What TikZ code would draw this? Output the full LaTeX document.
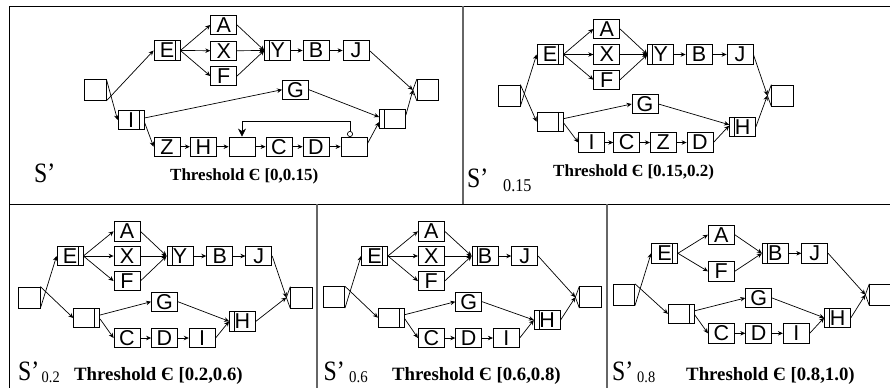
\documentclass[tikz,border=0pt]{standalone}
\usepackage{fontspec}
\setmainfont{Liberation Serif}
\newfontfamily\labfont{Liberation Sans}
\usetikzlibrary{arrows.meta}
\begin{document}
\begin{tikzpicture}[x=1pt,y=-1pt,
  bx/.style={draw, line width=0.8pt, minimum width=26pt, minimum height=19.5pt, inner sep=0pt, font=\labfont\fontsize{21.5}{21.5}\selectfont},
  se/.style={draw, line width=0.8pt, minimum width=21.5pt, minimum height=21pt, inner sep=0pt},
  dr/.style={bx, path picture={\draw[line width=0.8pt] ([xshift=-5pt]path picture bounding box.north east) -- ([xshift=-5pt]path picture bounding box.south east);}},
  dl/.style={bx, path picture={\draw[line width=0.8pt] ([xshift=5pt]path picture bounding box.north west) -- ([xshift=5pt]path picture bounding box.south west);}},
  arr/.style={-{Stealth[length=5pt,width=4.5pt]}, line width=0.7pt},
  ln/.style={line width=0.7pt},
  frameblack/.style={line width=0.9pt, black},
  framegray/.style={line width=1.1pt, black!60},
  slab/.style={anchor=base west, inner sep=0pt, font=\fontsize{28}{28}\selectfont},
  sub/.style={anchor=base west, inner sep=0pt},
  thr/.style={anchor=base west, inner sep=0pt, font=\bfseries\fontsize{18.8}{18.8}\selectfont},
  thrtop/.style={anchor=base west, inner sep=0pt, font=\bfseries\fontsize{17}{17}\selectfont}
]
\useasboundingbox (0,0) rectangle (890,388);
% frame
\draw[frameblack] (890,6) -- (9,6) -- (9,388);
\draw[frameblack] (9,204) -- (890,204);
\draw[framegray] (463,6) -- (463,204);
\draw[framegray] (317,204) -- (317,388);
\draw[framegray] (607,204) -- (607,388);

% ================= Panel 1 =================
\node[se] (st1) at (95.2,90) {};
\node[dr] (E1) at (167,50.5) {E};
\node[bx] (A1) at (223.7,25) {A};
\node[bx] (X1) at (223.7,50.7) {X};
\node[bx] (F1) at (223.7,76) {F};
\node[dl] (Y1) at (277.7,50.5) {Y};
\node[bx] (B1) at (316,50.5) {B};
\node[bx] (J1) at (356,50.5) {J};
\node[se] (en1) at (428,90) {};
\node[bx] (G1) at (295.5,89.7) {G};
\node[dr] (I1) at (131,120) {I};
\node[dl] (jn1) at (392.5,119) {};
\node[bx] (Z1) at (167,146.7) {Z};
\node[bx] (H1) at (203.3,146.7) {H};
\node[bx] (K1) at (242,146.7) {};
\node[bx] (C1) at (279,146.7) {C};
\node[bx] (D1) at (316,146.7) {D};
\node[bx] (L1) at (354,146.7) {};
\draw[arr] (st1.south east) -- (E1.west);
\draw[arr] (st1.north east) -- (I1.west);
\foreach \n in {A1,X1,F1}{
  \draw[arr] (E1.east) -- (\n.west);
  \draw[arr] (\n.east) -- (Y1.west);
}
\draw[arr] (Y1.east) -- (B1.west);
\draw[arr] (B1.east) -- (J1.west);
\draw[arr] ([yshift=2pt]I1.east) -- (G1.west);
\draw[arr] ([yshift=-2pt]I1.east) -- (Z1.west);
\draw[arr] (Z1.east) -- (H1.west);
\draw[arr] (H1.east) -- (K1.west);
\draw[arr] (K1.east) -- (C1.west);
\draw[arr] (C1.east) -- (D1.west);
\draw[arr] (D1.east) -- (L1.west);
\draw[arr] (G1.east) -- ([yshift=2pt]jn1.west);
\draw[arr] ([yshift=3pt]L1.east) -- ([yshift=-3pt]jn1.west);
\coordinate (p1) at ([xshift=-4pt]en1.west);
\draw[arr] (J1.east) -- (p1);
\draw[arr] ([yshift=4pt]jn1.east) -- (p1);
\draw[ln] (en1.north west) -- (p1) -- (en1.south west);
\node[circle, draw, line width=0.7pt, minimum size=5.2pt, inner sep=0pt] (o1) at (350,134) {};
\coordinate (lp1) at (242,121.7);
\draw[ln, -{Stealth[length=8pt,width=8pt]}] (o1.north) |- (lp1) -- (K1.north);
\node[slab] (s1) at (34,182) {\scalebox{0.85}[1]{S’}};
\node[thrtop] (t1) at (170,180) {Threshold Є [0,0.15)};

% ================= Panel 2 =================
\node[se] (st2) at (509.2,95.5) {};
\node[dr] (E2) at (550,54.5) {E};
\node[bx] (A2) at (606.7,29) {A};
\node[bx] (X2) at (606.7,54.5) {X};
\node[bx] (F2) at (606.7,79.7) {F};
\node[dl] (Y2) at (660.8,54.5) {Y};
\node[bx] (B2) at (699,54.5) {B};
\node[bx] (J2) at (740,54.5) {J};
\node[se] (en2) at (782.5,95.5) {};
\node[bx] (G2) at (645,104) {G};
\node[dr] (sp2) at (550,121.7) {};
\node[dl] (H2) at (742.5,126.7) {H};
\node[bx] (I2) at (591.7,142.5) {I};
\node[bx] (C2) at (626.7,142.5) {C};
\node[bx] (Z2) at (663.3,142.5) {Z};
\node[bx] (D2) at (700,142.5) {D};
\draw[arr] (st2.south east) -- (E2.west);
\draw[arr] (st2.north east) -- (sp2.west);
\foreach \n in {A2,X2,F2}{
  \draw[arr] (E2.east) -- (\n.west);
  \draw[arr] (\n.east) -- (Y2.west);
}
\draw[arr] (Y2.east) -- (B2.west);
\draw[arr] (B2.east) -- (J2.west);
\draw[arr] ([yshift=3pt]sp2.east) -- (G2.west);
\draw[arr] ([yshift=-1pt]sp2.east) -- (I2.west);
\draw[arr] (I2.east) -- (C2.west);
\draw[arr] (C2.east) -- (Z2.west);
\draw[arr] (Z2.east) -- (D2.west);
\draw[arr] (G2.east) -- ([yshift=2pt]H2.west);
\draw[arr] (D2.east) -- ([yshift=1pt]H2.west);
\coordinate (p2) at ([xshift=-4pt]en2.west);
\draw[arr] (J2.east) -- (p2);
\draw[arr] (H2.east) -- (p2);
\draw[ln] (en2.north west) -- (p2) -- (en2.south west);
\node[slab] (s2) at (467,187) {\scalebox{0.85}[1]{S’}};
\node[sub, font=\fontsize{18}{18}\selectfont] (u2) at (503,191.5) {\scalebox{0.9}[1]{0.15}};
\node[thrtop] (t2) at (553,176.7) {Threshold Є [0.15,0.2)};

% ================= Panel 3 =================
\node[se] (st3) at (29.2,297.5) {};
\node[dr] (E3) at (70,256) {E};
\node[bx] (A3) at (127,231.3) {A};
\node[bx] (X3) at (127,256) {X};
\node[bx] (F3) at (127,281) {F};
\node[dl] (Y3) at (180,256) {Y};
\node[bx] (B3) at (219.7,256) {B};
\node[bx] (J3) at (258.8,256) {J};
\node[se] (en3) at (301.5,297.5) {};
\node[bx] (G3) at (164.5,301.7) {G};
\node[dr] (sp3) at (86.7,318) {};
\node[dl] (H3) at (242.5,321.3) {H};
\node[bx] (C3) at (127,338) {C};
\node[bx] (D3) at (164.5,338) {D};
\node[bx] (I3) at (202.2,338) {I};
\draw[arr] (st3.south east) -- (E3.west);
\draw[arr] (st3.north east) -- (sp3.west);
\foreach \n in {A3,X3,F3}{
  \draw[arr] (E3.east) -- (\n.west);
  \draw[arr] (\n.east) -- (Y3.west);
}
\draw[arr] (Y3.east) -- (B3.west);
\draw[arr] (B3.east) -- (J3.west);
\draw[arr] ([yshift=3pt]sp3.east) -- (G3.west);
\draw[arr] ([yshift=-1pt]sp3.east) -- (C3.west);
\draw[arr] (C3.east) -- (D3.west);
\draw[arr] (D3.east) -- (I3.west);
\draw[arr] (G3.east) -- (H3.west);
\draw[arr] (I3.east) -- (H3.west);
\coordinate (p3) at ([xshift=-4pt]en3.west);
\draw[arr] (J3.east) -- (p3);
\draw[arr] (H3.east) -- (p3);
\draw[ln] (en3.north west) -- (p3) -- (en3.south west);
\node[slab] (s3) at (18,380) {\scalebox{0.85}[1]{S’}};
\node[sub, font=\fontsize{16}{16}\selectfont] (u3) at (41.5,382) {\scalebox{0.9}[1]{0.2}};
\node[thr] (t3) at (74,380) {Threshold Є [0.2,0.6)};

% ================= Panel 4 =================
\node[se] (st4) at (333.8,297.2) {};
\node[dr] (E4) at (374.5,256) {E};
\node[bx] (A4) at (431.3,231.3) {A};
\node[bx] (X4) at (431.3,256) {X};
\node[bx] (F4) at (431.3,281) {F};
\node[dl] (B4) at (485,256) {B};
\node[bx] (J4) at (524.7,256) {J};
\node[se] (en4) at (590.5,297.2) {};
\node[bx] (G4) at (468.7,301.7) {G};
\node[dr] (sp4) at (391.3,317.7) {};
\node[dl] (H4) at (547.2,320) {H};
\node[bx] (C4) at (431.3,338) {C};
\node[bx] (D4) at (468.7,338) {D};
\node[bx] (I4) at (506.3,338) {I};
\draw[arr] (st4.south east) -- (E4.west);
\draw[arr] (st4.north east) -- (sp4.west);
\foreach \n in {A4,X4,F4}{
  \draw[arr] (E4.east) -- (\n.west);
  \draw[arr] (\n.east) -- (B4.west);
}
\draw[arr] (B4.east) -- (J4.west);
\draw[arr] ([yshift=3pt]sp4.east) -- (G4.west);
\draw[arr] ([yshift=-1pt]sp4.east) -- (C4.west);
\draw[arr] (C4.east) -- (D4.west);
\draw[arr] (D4.east) -- (I4.west);
\draw[arr] (G4.east) -- (H4.west);
\draw[arr] (I4.east) -- (H4.west);
\coordinate (p4) at ([xshift=-4pt]en4.west);
\draw[arr] (J4.east) -- (p4);
\draw[arr] (H4.east) -- (p4);
\draw[ln] (en4.north west) -- (p4) -- (en4.south west);
\node[slab] (s4) at (323.5,380) {\scalebox{0.85}[1]{S’}};
\node[sub, font=\fontsize{16.5}{16.5}\selectfont] (u4) at (349,382) {\scalebox{0.9}[1]{0.6}};
\node[thr] (t4) at (392,380) {Threshold Є [0.6,0.8)};

% ================= Panel 5 =================
\node[se] (st5) at (623.8,294.7) {};
\node[dr] (E5) at (664.5,253.3) {E};
\node[bx] (A5) at (721.3,234.7) {A};
\node[bx] (F5) at (721.3,271.3) {F};
\node[dl] (B5) at (775.3,253.3) {B};
\node[bx] (J5) at (814.7,253.3) {J};
\node[se] (en5) at (880.5,294.7) {};
\node[bx] (G5) at (758.7,298) {G};
\node[dr] (sp5) at (681.3,313.8) {};
\node[dl] (H5) at (837.5,317.7) {H};
\node[bx] (C5) at (721.3,333.3) {C};
\node[bx] (D5) at (758.7,333.3) {D};
\node[bx] (I5) at (796.3,333.3) {I};
\draw[arr] (st5.south east) -- (E5.west);
\draw[arr] (st5.north east) -- (sp5.west);
\foreach \n in {A5,F5}{
  \draw[arr] (E5.east) -- (\n.west);
  \draw[arr] (\n.east) -- (B5.west);
}
\draw[arr] (B5.east) -- (J5.west);
\draw[arr] ([yshift=3pt]sp5.east) -- (G5.west);
\draw[arr] ([yshift=-1pt]sp5.east) -- (C5.west);
\draw[arr] (C5.east) -- (D5.west);
\draw[arr] (D5.east) -- (I5.west);
\draw[arr] (G5.east) -- (H5.west);
\draw[arr] (I5.east) -- (H5.west);
\coordinate (p5) at ([xshift=-4pt]en5.west);
\draw[arr] (J5.east) -- (p5);
\draw[arr] (H5.east) -- (p5);
\draw[ln] (en5.north west) -- (p5) -- (en5.south west);
\node[slab] (s5) at (612,380) {\scalebox{0.85}[1]{S’}};
\node[sub, font=\fontsize{16}{16}\selectfont] (u5) at (637,382) {\scalebox{0.9}[1]{0.8}};
\node[thr] (t5) at (686,380) {Threshold Є [0.8,1.0)};
\end{tikzpicture}
\end{document}
